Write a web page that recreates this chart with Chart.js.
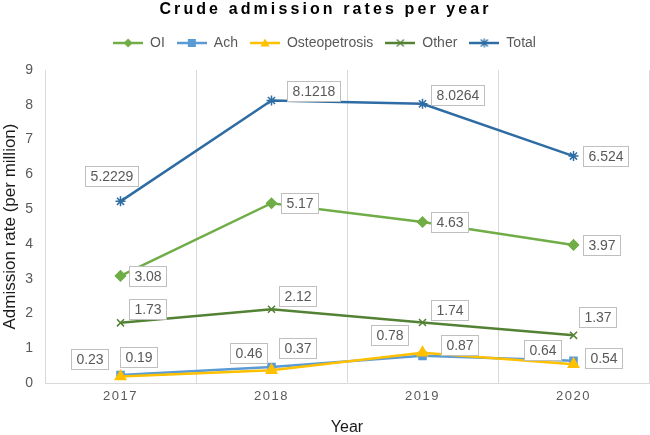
<!DOCTYPE html>
<html lang="en">
<head>
<meta charset="UTF-8">
<title>Crude admission rates per year</title>
<style>
  body { margin: 0; background: #ffffff; }
  .wrap { width: 650px; height: 435px; }
</style>
</head>
<body>
<div class="wrap"><canvas id="rates"></canvas></div>
<script src="https://cdn.jsdelivr.net/npm/chart.js"></script>
<script>
// values
const years = ['2017', '2018', '2019', '2020'];
const oi = [3.08, 5.17, 4.63, 3.97];
const ach = [0.23, 0.46, 0.78, 0.64];
const osteopetrosis = [0.19, 0.37, 0.87, 0.54];
const other = [1.73, 2.12, 1.74, 1.37];
const total = [5.2229, 8.1218, 8.0264, 6.524];
const yMin = 0, yMax = 9, yStep = 1;

const FONT = '"Liberation Sans", Arial, sans-serif';
const GREY = '#595959';

// small line + marker picture used as the legend symbol
function legendIcon(color, shape) {
    const c = document.createElement('canvas');
    c.width = 30; c.height = 12;
    const g = c.getContext('2d');
    g.strokeStyle = color; g.fillStyle = color;
    g.lineWidth = 2.5;
    g.beginPath(); g.moveTo(0, 6); g.lineTo(30, 6); g.stroke();
    const cx = 15, cy = 6, r = 4.5;
    g.lineWidth = 1.3;
    g.beginPath();
    if (shape === 'rectRot') {
        g.moveTo(cx, cy - r); g.lineTo(cx + r, cy); g.lineTo(cx, cy + r); g.lineTo(cx - r, cy);
        g.closePath(); g.fill();
    } else if (shape === 'rect') {
        g.fillRect(cx - 4, cy - 4, 8, 8);
    } else if (shape === 'triangle') {
        g.moveTo(cx, cy - r); g.lineTo(cx + r, cy + r * 0.8); g.lineTo(cx - r, cy + r * 0.8);
        g.closePath(); g.fill();
    } else if (shape === 'crossRot') {
        g.moveTo(cx - 3.5, cy - 3.5); g.lineTo(cx + 3.5, cy + 3.5);
        g.moveTo(cx + 3.5, cy - 3.5); g.lineTo(cx - 3.5, cy + 3.5); g.stroke();
    } else {
        g.moveTo(cx - 3.5, cy - 3.5); g.lineTo(cx + 3.5, cy + 3.5);
        g.moveTo(cx + 3.5, cy - 3.5); g.lineTo(cx - 3.5, cy + 3.5);
        g.moveTo(cx, cy - 4.5); g.lineTo(cx, cy + 4.5); g.stroke();
    }
    return c;
}

function series(label, data, color, shape, order, radius) {
    return {
        label: label,
        data: data,
        borderColor: color,
        backgroundColor: color,
        borderWidth: 2.5,
        pointStyle: shape,
        pointRadius: radius,
        pointBorderWidth: 1.5,
        pointBackgroundColor: color,
        pointBorderColor: color,
        tension: 0,
        order: order,
        legendIcon: legendIcon(color, shape)
    };
}

// boxed value labels next to each point, plus the spaced-out title
const boxLabels = {
    id: 'boxLabels',
    beforeInit(chart) {
        // fixed legend band so the plot starts where the reference does
        const fit = chart.legend.fit;
        chart.legend.fit = function () {
            fit.call(this);
            this.height = 46;
        };
    },
    afterDatasetsDraw(chart, args, opts) {
        const ctx = chart.ctx;
        ctx.save();
        ctx.font = '14px ' + FONT;
        ctx.textAlign = 'center';
        ctx.textBaseline = 'middle';
        chart.data.datasets.forEach((ds, di) => {
            const meta = chart.getDatasetMeta(di);
            const offs = opts.offsets[di];
            meta.data.forEach((pt, i) => {
                const txt = String(ds.data[i]);
                const x = pt.x + offs[i][0];
                const y = pt.y + offs[i][1];
                const w = Math.round(ctx.measureText(txt).width + 10);
                const h = 20;
                const left = Math.round(x - w / 2), top = Math.round(y - h / 2);
                ctx.fillStyle = '#ffffff';
                ctx.fillRect(left, top, w, h);
                ctx.strokeStyle = '#bfbfbf';
                ctx.lineWidth = 1;
                ctx.strokeRect(left + 0.5, top + 0.5, w, h);
                ctx.fillStyle = GREY;
                ctx.fillText(txt, left + w / 2 + 0.5, top + h / 2 + 1);
            });
        });
        ctx.restore();
        // x tick labels (ticks.z = 1) are drawn next, spaced out
        ctx.letterSpacing = '1.5px';
    },
    afterDraw(chart, args, opts) {
        const ctx = chart.ctx;
        ctx.letterSpacing = '0px';
        ctx.save();
        ctx.font = 'bold 16px ' + FONT;
        ctx.letterSpacing = '3.1px';
        ctx.fillStyle = '#000000';
        ctx.textAlign = 'center';
        ctx.textBaseline = 'alphabetic';
        ctx.fillText(opts.text, chart.width / 2 + 0.5, 13.5);
        ctx.restore();
        ctx.letterSpacing = '0px';
    }
};

new Chart(document.getElementById('rates'), {
    type: 'line',
    data: {
        labels: years,
        datasets: [
            series('OI', oi, '#70ad47', 'rectRot', 0, 5),
            series('Ach', ach, '#5b9bd5', 'rect', 2, 5),
            series('Osteopetrosis', osteopetrosis, '#ffc000', 'triangle', 1, 6),
            series('Other', other, '#548235', 'crossRot', 0, 5),
            series('Total', total, '#2e6ca4', 'star', 0, 5)
        ]
    },
    plugins: [boxLabels],
    options: {
        responsive: true,
        maintainAspectRatio: false,
        animation: false,
        layout: { autoPadding: false, padding: { top: 24, left: 0, right: 1, bottom: 0 } },
        plugins: {
            title: { display: false },
            tooltip: { enabled: false },
            legend: {
                position: 'top',
                labels: {
                    usePointStyle: true,
                    pointStyleWidth: 30,
                    padding: 12,
                    color: GREY,
                    font: { family: FONT, size: 14 },
                    sort: (a, b) => a.datasetIndex - b.datasetIndex,
                    generateLabels(chart) {
                        return chart.data.datasets.map((ds, i) => ({
                            text: ds.label,
                            datasetIndex: i,
                            pointStyle: ds.legendIcon,
                            fontColor: GREY,
                            hidden: false,
                            lineWidth: 0,
                            strokeStyle: ds.borderColor,
                            fillStyle: ds.borderColor
                        }));
                    }
                }
            },
            boxLabels: {
                text: 'Crude admission rates per year',
                offsets: [
                    [[27, 0], [28, 0], [27, 0], [28, 0]],
                    [[-31, -16], [-23, -14], [-33, -21], [-31, -11]],
                    [[18, -19], [26, -22], [37, -8], [30, -6]],
                    [[27, -14], [26, -13], [27, -12], [24, -18]],
                    [[-9, -25], [42, -10], [35, -9], [32, 0]]
                ]
            }
        },
        scales: {
            x: {
                offset: true,
                afterFit: (scale) => { scale.height = 52; },
                grid: { offset: true, color: '#d9d9d9', drawTicks: false },
                border: { color: '#d9d9d9' },
                ticks: { color: GREY, padding: 6, z: 1, font: { family: FONT, size: 13 } },
                title: {
                    display: true,
                    text: 'Year',
                    color: '#1a1a1a',
                    font: { family: FONT, size: 16, lineHeight: 0.9 },
                    padding: { top: 16, bottom: 0 }
                }
            },
            y: {
                min: yMin,
                max: yMax,
                afterFit: (scale) => { scale.width = 45; },
                grid: { display: false, drawTicks: false },
                border: { display: false },
                ticks: { stepSize: yStep, color: GREY, padding: 12, font: { family: FONT, size: 14 } },
                title: {
                    display: true,
                    text: 'Admission rate (per million)',
                    color: '#1a1a1a',
                    font: { family: FONT, size: 17 },
                    padding: { top: 0, bottom: 5 }
                }
            }
        }
    }
});
</script>
</body>
</html>
